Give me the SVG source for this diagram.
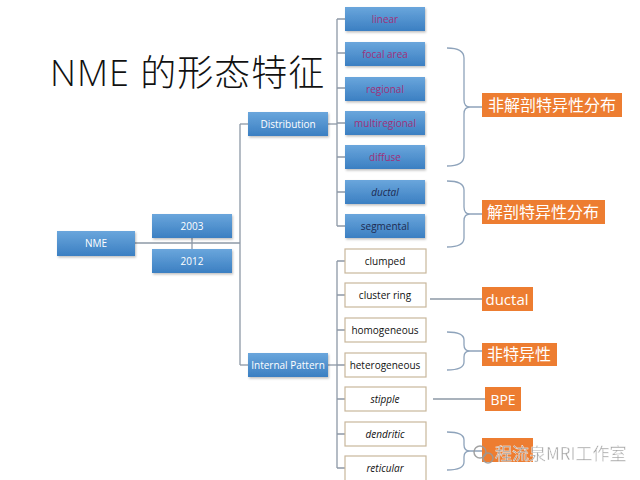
<svg xmlns="http://www.w3.org/2000/svg" width="640" height="480" viewBox="0 0 640 480">
<defs>
<linearGradient id="bg" x1="0" y1="0" x2="0" y2="1">
<stop offset="0" stop-color="#6aa6dc"/>
<stop offset="1" stop-color="#3b7fc2"/>
</linearGradient>
<filter id="sh" x="-10%" y="-10%" width="125%" height="140%">
<feDropShadow dx="1" dy="1.5" stdDeviation="1" flood-color="#000" flood-opacity="0.25"/>
</filter>
</defs>
<style>
.b{fill:url(#bg);filter:url(#sh)}
.w{fill:#fff;stroke:#c9b79c;stroke-width:1.2}
.o{fill:#ed7d31}
.t{font-family:"Open Sans","Liberation Sans",sans-serif;font-size:10px;text-anchor:middle}
.tw{fill:#fff}
.tp{fill:#a0307a}
.tn{fill:#1d2b52}
.tk{fill:#111}
.i{font-style:italic}
.c{font-family:"Noto Sans CJK SC",sans-serif;font-size:16px;fill:#fff}
.ln{stroke:#8d98a6;stroke-width:1.3;fill:none}
.br{stroke:#8ea3bb;stroke-width:1.3;fill:none}
</style>
<rect width="640" height="480" fill="#fff"/>
<text x="50" y="86" font-family="'Open Sans','Noto Sans CJK SC',sans-serif" font-size="36" letter-spacing="1" fill="#111"><tspan font-weight="300">NME </tspan><tspan font-family="'Noto Sans CJK SC',sans-serif" font-weight="300">的形态特征</tspan></text>

<g id="connectors">
<line class="ln" x1="135" y1="243" x2="240" y2="243"/>
<line class="ln" x1="192" y1="237" x2="192" y2="249"/>
<line class="ln" x1="240" y1="124" x2="240" y2="365"/>
<line class="ln" x1="240" y1="124" x2="248" y2="124"/>
<line class="ln" x1="240" y1="365" x2="248" y2="365"/>
<line class="ln" x1="328" y1="124" x2="337" y2="124"/>
<line class="ln" x1="328" y1="365" x2="337" y2="365"/>
<line class="ln" x1="337" y1="19" x2="337" y2="226"/>
<path class="ln" d="M337,19H345M337,53H345M337,88H345M337,123H345M337,157H345M337,192H345M337,226H345"/>
<line class="ln" x1="337" y1="261" x2="337" y2="468"/>
<path class="ln" d="M337,261H345M337,295H345M337,330H345M337,365H345M337,399H345M337,434H345M337,468H345"/>
<path class="br" d="M447,48Q464,48 464,58L464,100Q464,107 470,107Q464,107 464,114L464,156Q464,166 447,166M470,107H482"/>
<path class="br" d="M447,181Q464,181 464,190L464,207Q464,214 470,214Q464,214 464,221L464,238Q464,247 447,247M470,214H482"/>
<path class="br" d="M447,332Q464,332 464,340L464,345Q464,351 470,351Q464,351 464,357L464,362Q464,370 447,370M470,351H482"/>
<path class="br" d="M447,432Q464,432 464,440L464,445Q464,451 470,451Q464,451 464,457L464,462Q464,470 447,470M470,451H482"/>
<line class="ln" x1="430" y1="299" x2="482" y2="299"/>
<line class="ln" x1="433" y1="399" x2="485" y2="399"/>
</g>

<g id="nme"><rect class="b" x="57" y="231" width="78" height="25"/><text class="t tw" x="96" y="247">NME</text></g>
<g id="y2003"><rect class="b" x="152" y="214" width="80" height="24"/><text class="t tw" x="192" y="230">2003</text></g>
<g id="y2012"><rect class="b" x="152" y="249" width="80" height="24"/><text class="t tw" x="192" y="265">2012</text></g>
<g id="distribution"><rect class="b" x="248" y="112" width="80" height="24"/><text class="t tw" x="288" y="128">Distribution</text></g>
<g id="internal"><rect class="b" x="248" y="353" width="80" height="24"/><text class="t tw" x="288" y="369">Internal Pattern</text></g>

<g id="linear"><rect class="b" x="345" y="7" width="80" height="24"/><text class="t tp" x="385" y="23">linear</text></g>
<g id="focal"><rect class="b" x="345" y="42" width="80" height="24"/><text class="t tp" x="385" y="58">focal area</text></g>
<g id="regional"><rect class="b" x="345" y="77" width="80" height="24"/><text class="t tp" x="385" y="93">regional</text></g>
<g id="multiregional"><rect class="b" x="345" y="111" width="80" height="24"/><text class="t tp" x="385" y="127">multiregional</text></g>
<g id="diffuse"><rect class="b" x="345" y="145" width="80" height="24"/><text class="t tp" x="385" y="161">diffuse</text></g>
<g id="ductal"><rect class="b" x="345" y="180" width="80" height="24"/><text class="t tn i" x="385" y="196">ductal</text></g>
<g id="segmental"><rect class="b" x="345" y="214" width="80" height="24"/><text class="t tn" x="385" y="230">segmental</text></g>

<g id="clumped"><rect class="w" x="345" y="249" width="81" height="24"/><text class="t tk" x="385" y="265">clumped</text></g>
<g id="clusterring"><rect class="w" x="345" y="283" width="81" height="24"/><text class="t tk" x="385" y="299">cluster ring</text></g>
<g id="homogeneous"><rect class="w" x="345" y="318" width="81" height="24"/><text class="t tk" x="385" y="334">homogeneous</text></g>
<g id="heterogeneous"><rect class="w" x="345" y="353" width="81" height="24"/><text class="t tk" x="385" y="369">heterogeneous</text></g>
<g id="stipple"><rect class="w" x="345" y="387" width="81" height="24"/><text class="t tk i" x="385" y="403">stipple</text></g>
<g id="dendritic"><rect class="w" x="345" y="422" width="81" height="24"/><text class="t tk i" x="385" y="438">dendritic</text></g>
<g id="reticular"><rect class="w" x="345" y="456" width="81" height="26"/><text class="t tk i" x="385" y="472">reticular</text></g>

<g id="label1"><rect class="o" x="482" y="93" width="140" height="24"/><text class="c" x="552" y="111" text-anchor="middle">非解剖特异性分布</text></g>
<g id="label2"><rect class="o" x="482" y="200" width="123" height="24"/><text class="c" x="543" y="218" text-anchor="middle">解剖特异性分布</text></g>
<g id="label3"><rect class="o" x="482" y="287" width="51" height="24"/><text x="507" y="305" text-anchor="middle" font-family="'Open Sans',sans-serif" font-size="15" fill="#fff">ductal</text></g>
<g id="label4"><rect class="o" x="482" y="343" width="75" height="23"/><text class="c" x="519" y="360" text-anchor="middle">非特异性</text></g>
<g id="label5"><rect class="o" x="485" y="387" width="36" height="24"/><text x="503" y="405" text-anchor="middle" font-family="'Open Sans',sans-serif" font-size="14" fill="#fff">BPE</text></g>
<g id="label6"><rect class="o" x="482" y="438" width="51" height="24"/></g>

<g id="watermark" opacity="0.9">
<circle cx="480" cy="452" r="6" fill="none" stroke="#999" stroke-width="1.5"/>
<circle cx="488" cy="458" r="5" fill="none" stroke="#999" stroke-width="1.5"/>
<text x="495" y="460" font-family="'Noto Sans CJK SC',sans-serif" font-size="17" fill="#9a9a9a" stroke="#fff" stroke-width="0.4">程流泉MRI工作室</text>
</g>
</svg>
